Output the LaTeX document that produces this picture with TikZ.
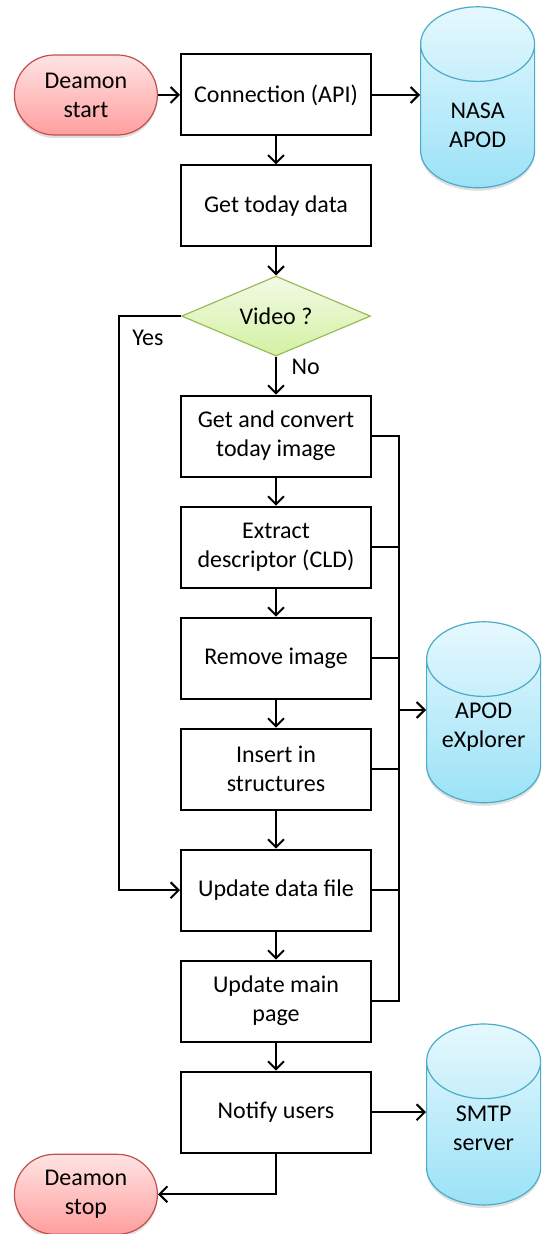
\documentclass[tikz,border=0pt]{standalone}
\usepackage{fontspec}
\setmainfont{Carlito}
\usepackage{tikz}
\usetikzlibrary{positioning, arrows.meta, shapes.geometric, shadows}
\definecolor{pillline}{HTML}{C0504D}
\definecolor{pilltop}{HTML}{FFE4E4}
\definecolor{pillbot}{HTML}{FF9E9E}
\definecolor{dbline}{HTML}{4BACC6}
\definecolor{dbtop}{HTML}{E6F8FE}
\definecolor{dbbot}{HTML}{9BE2F7}
\definecolor{testline}{HTML}{9BBB59}
\definecolor{testtop}{HTML}{F3FAE6}
\definecolor{testbot}{HTML}{D3F1A2}
\tikzset{>={Straight Barb[length=4pt,width=8pt]},
every node/.style={font=\fontsize{12}{14.5}\selectfont, align=center},
process/.style={draw, fill=white, line width=1pt, minimum width=95pt, minimum height=40.5pt, inner sep=2pt},
pill/.style={draw=pillline, line width=0.6pt, rounded corners=20pt, top color=pilltop, bottom color=pillbot,
    minimum width=71.5pt, minimum height=40pt, drop shadow={opacity=0.25, shadow xshift=0pt, shadow yshift=-1.5pt}},
test/.style={diamond, draw=testline, line width=0.6pt, top color=testtop, bottom color=testbot,
    aspect=2.4, inner sep=0pt, minimum width=94.5pt, minimum height=40pt},
store/.style={cylinder, shape border rotate=90, aspect=5.6, draw=dbline, line width=0.6pt,
    top color=dbtop, bottom color=dbbot, minimum width=57pt, minimum height=90.5pt,
    drop shadow={opacity=0.25, shadow xshift=0pt, shadow yshift=-1.5pt}},
flow/.style={->, line width=1pt},
bus/.style={line width=1pt},
}

\begin{document}
\begin{tikzpicture}[x=0.5pt, y=-0.5pt, node distance=14pt]
    \useasboundingbox (0,0) rectangle (542,1234);
    \node[process] (conn) at (276,95) {Connection (API)};
    \node[pill, left=11pt of conn] (start) {Deamon\\start};
    \node[store, right=24pt of conn, yshift=-15pt] (nasa) {};
    \node (nasatext) at (nasa.center) {NASA\\APOD};
    \node[process, below=of conn] (today) {Get today data};
    \node[test, below=of today] (video) {Video ?};
    \node[process, below=19pt of video] (getimg) {Get and convert\\today image};
    \node[process, below=of getimg] (extract) {Extract\\descriptor (CLD)};
    \node[process, below=of extract] (remove) {Remove image};
    \node[process, below=of remove] (insert) {Insert in\\structures};
    \node[process, below=19pt of insert] (upfile) {Update data file};
    \node[process, below=of upfile] (uppage) {Update main\\page};
    \node[process, below=of uppage] (notify) {Notify users};
    \node[store, right=27pt of notify, yshift=-15pt] (smtp) {};
    \node (smtptext) at ([yshift=7pt]smtp.center) {SMTP\\server};
    \node[store] (apod) at (smtp |- 0,740) {};
    \node (apodtext) at ([yshift=6.5pt]apod.center) {APOD\\eXplorer};
    \node[pill, anchor=north] (stop) at (start |- notify.south) {Deamon\\stop};
    \node (yes) at ([xshift=-16.5pt, yshift=-11pt]video.west) {Yes};
    \coordinate (apodin) at ([yshift=15pt]apod.west);

    \draw[flow] (start) -- (conn);
    \draw[flow] (conn.east) -- (conn.east -| nasa.west);
    \draw[flow] (conn) -- (today);
    \draw[flow] (today) -- (video);
    \draw[flow] (video) -- node[right=4pt, pos=0.27] (no) {No} (getimg);
    \draw[flow] (getimg) -- (extract);
    \draw[flow] (extract) -- (remove);
    \draw[flow] (remove) -- (insert);
    \draw[flow] (insert) -- (upfile);
    \draw[flow] (upfile) -- (uppage);
    \draw[flow] (uppage) -- (notify);
    \draw[flow] (video.west) -- ++(-31pt,0) |- (upfile.west);
    \draw[bus] (getimg.east) -- ++(13.5pt,0) coordinate (bus) |- (uppage.east);
    \foreach \n in {extract,remove,insert,upfile}
        \draw[bus] (\n.east) -- (\n.east -| bus);
    \draw[flow] (bus |- apodin) -- (apodin);
    \draw[flow] (notify.east) -- (notify.east -| smtp.west);
    \draw[flow] (notify) |- (stop);
\end{tikzpicture}
\end{document}
